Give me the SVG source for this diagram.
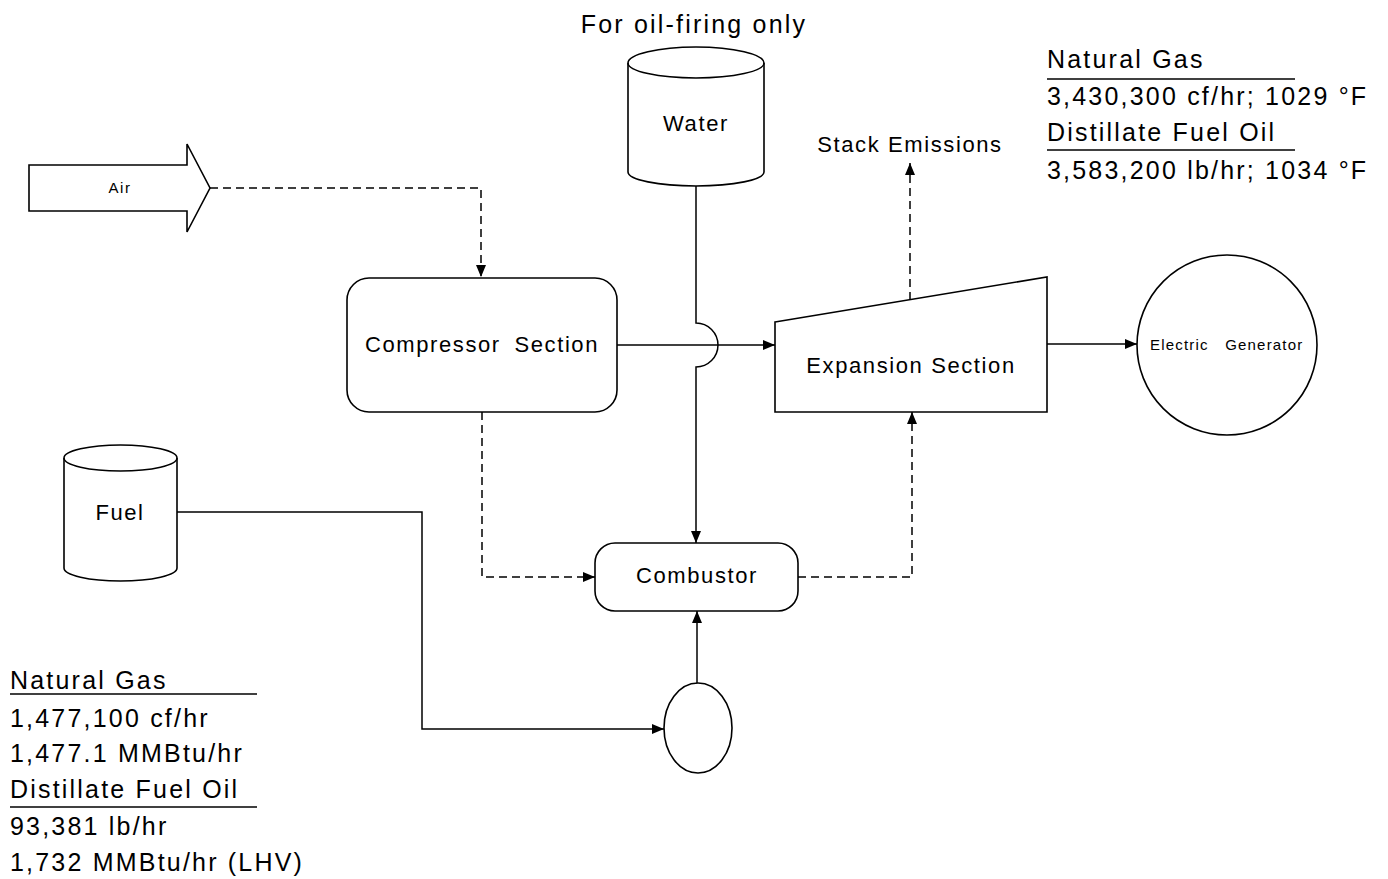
<svg xmlns="http://www.w3.org/2000/svg" width="1388" height="879" viewBox="0 0 1388 879">
<style>
  .shape { fill: #fff; stroke: #000; stroke-width: 1.6; }
  .conn { fill: none; stroke: #000; stroke-width: 1.5; }
  .dash { stroke-dasharray: 8 5; }
  .lbl { font-family: "Liberation Sans", Arial, sans-serif; fill: #000; }
  .node { font-size: 22px; letter-spacing: 1.6px; text-anchor: middle; }
  .big { font-size: 25px; letter-spacing: 2.2px; }
  .rule { stroke: #000; stroke-width: 1.3; }
</style>
<defs>
  <marker id="arr" markerUnits="userSpaceOnUse" markerWidth="13" markerHeight="11" refX="12" refY="5" orient="auto" viewBox="0 0 13 11">
    <path d="M0,0 L12,5 L0,10 z" fill="#000"/>
  </marker>
</defs>
<rect width="1388" height="879" fill="#fff"/>

<g id="connectors">
  <path class="conn dash" d="M210,188 H481 V277" marker-end="url(#arr)"/>
  <path class="conn" d="M617,345 H775" marker-end="url(#arr)"/>
  <path class="conn" d="M696,186 V323 A22,22 0 0 1 696,367 V543" marker-end="url(#arr)"/>
  <path class="conn dash" d="M482,412 V577 H595" marker-end="url(#arr)"/>
  <path class="conn dash" d="M798,577 H912 V412" marker-end="url(#arr)"/>
  <path class="conn dash" d="M910,300 V163" marker-end="url(#arr)"/>
  <path class="conn" d="M1047,344 H1137" marker-end="url(#arr)"/>
  <path class="conn" d="M177,512 H422 V729 H664" marker-end="url(#arr)"/>
  <path class="conn" d="M697,683 V611" marker-end="url(#arr)"/>
</g>

<g id="air">
  <polygon class="shape" points="29,165 187,165 187,144 210,188 187,232 187,211 29,211"/>
  <text class="lbl" x="120" y="193" font-size="15" letter-spacing="1.5" text-anchor="middle">Air</text>
</g>

<g id="water">
  <path class="shape" d="M628,63 A68,16 0 0 1 764,63 V172 A68,14 0 0 1 628,172 Z"/>
  <path class="conn" d="M628,63 A68,15 0 0 0 764,63"/>
  <text class="lbl node" x="696" y="131">Water</text>
</g>

<g id="compressor">
  <rect class="shape" x="347" y="278" width="270" height="134" rx="22" ry="22"/>
  <text class="lbl node" x="482" y="352" word-spacing="6">Compressor Section</text>
</g>

<g id="expansion">
  <polygon class="shape" points="775,322 1047,277 1047,412 775,412"/>
  <text class="lbl node" x="911" y="373">Expansion Section</text>
</g>

<g id="generator">
  <circle class="shape" cx="1227" cy="345" r="90"/>
  <text class="lbl" x="1150" y="350" font-size="15" letter-spacing="1.2" word-spacing="11">Electric Generator</text>
</g>

<g id="combustor">
  <rect class="shape" x="595" y="543" width="203" height="68" rx="20" ry="20"/>
  <text class="lbl node" x="697" y="583">Combustor</text>
</g>

<g id="fuel">
  <path class="shape" d="M64,458 A56.5,13 0 0 1 177,458 V568 A56.5,13 0 0 1 64,568 Z"/>
  <path class="conn" d="M64,458 A56.5,13 0 0 0 177,458"/>
  <text class="lbl node" x="120" y="520">Fuel</text>
</g>

<g id="pump">
  <ellipse class="shape" cx="698" cy="728" rx="34" ry="45"/>
</g>

<g id="stack-label">
  <text class="lbl node" x="910" y="152" font-size="21">Stack Emissions</text>
</g>

<g id="oil-note">
  <text class="lbl big" x="694" y="33" text-anchor="middle">For oil-firing only</text>
</g>

<g id="exhaust-data">
  <text class="lbl big" x="1047" y="68">Natural Gas</text>
  <line class="rule" x1="1047" y1="79" x2="1295" y2="79"/>
  <text class="lbl big" x="1047" y="105" letter-spacing="2">3,430,300 cf/hr; 1029 °F</text>
  <text class="lbl big" x="1047" y="141">Distillate Fuel Oil</text>
  <line class="rule" x1="1047" y1="150" x2="1295" y2="150"/>
  <text class="lbl big" x="1047" y="179" letter-spacing="2">3,583,200 lb/hr; 1034 °F</text>
</g>

<g id="fuel-data">
  <text class="lbl big" x="10" y="689">Natural Gas</text>
  <line class="rule" x1="10" y1="694" x2="257" y2="694"/>
  <text class="lbl big" x="10" y="727">1,477,100 cf/hr</text>
  <text class="lbl big" x="10" y="762">1,477.1 MMBtu/hr</text>
  <text class="lbl big" x="10" y="798">Distillate Fuel Oil</text>
  <line class="rule" x1="10" y1="807" x2="257" y2="807"/>
  <text class="lbl big" x="10" y="835">93,381 lb/hr</text>
  <text class="lbl big" x="10" y="871">1,732 MMBtu/hr (LHV)</text>
</g>
</svg>
